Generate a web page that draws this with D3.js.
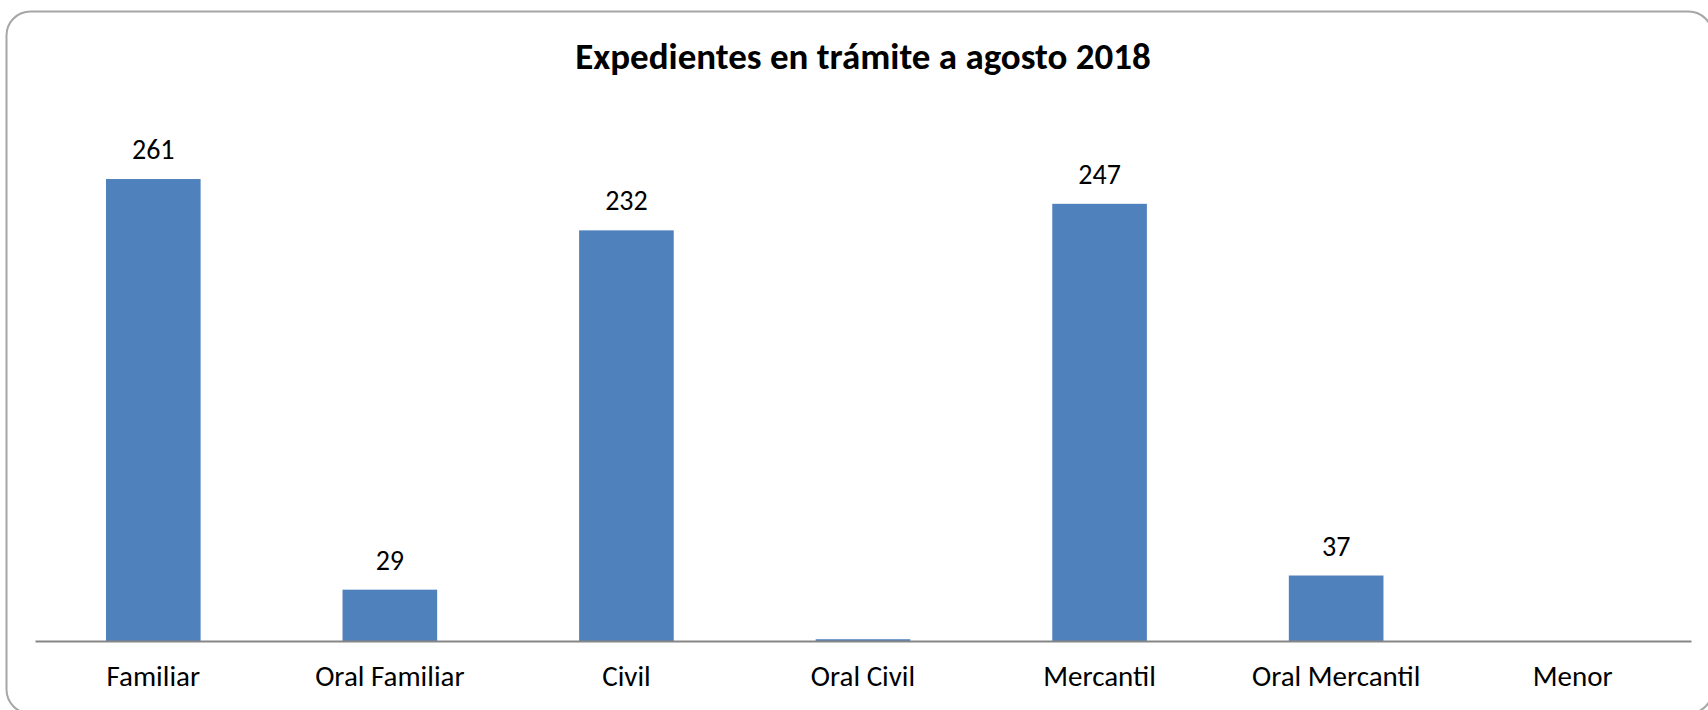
<!DOCTYPE html>
<html>
<head>
<meta charset="utf-8">
<script src="https://cdn.jsdelivr.net/npm/d3@7"></script>
<style>
  html, body { margin: 0; padding: 0; background: #fff; }
  svg { display: block; }
  text { font-family: Carlito, Calibri, Lato, "Open Sans", sans-serif; fill: #000; }
</style>
</head>
<body>
<svg id="chart" width="1708" height="710"></svg>
<script>
const title = "Expedientes en trámite a agosto 2018";
const categories = ["Familiar", "Oral Familiar", "Civil", "Oral Civil", "Mercantil", "Oral Mercantil", "Menor"];
const values = [261, 29, 232, 1, 247, 37, 0];
const labels = ["261", "29", "232", "", "247", "37", ""];
const yDomain = [0, 300];

const svg = d3.select("#chart");
const plot = { left: 35, right: 1691, top: 110, bottom: 641 };

svg.append("rect")
  .attr("x", 6.5).attr("y", 11.5)
  .attr("width", 1706).attr("height", 702)
  .attr("rx", 24).attr("ry", 24)
  .attr("fill", "#fff")
  .attr("stroke", "#a6a6a6").attr("stroke-width", 2);

const x = d3.scaleBand().domain(categories).range([plot.left, plot.right]).paddingInner(0.6).paddingOuter(0.3);
const y = d3.scaleLinear().domain(yDomain).range([plot.bottom, plot.top]);

svg.append("text")
  .attr("x", (plot.left + plot.right) / 2)
  .attr("y", 69)
  .attr("text-anchor", "middle")
  .style("font-size", "37px")
  .style("font-weight", "bold")
  .text(title);

const data = categories.map((c, i) => ({ c, v: values[i], l: labels[i] }));

svg.append("g").selectAll("rect")
  .data(data.filter(d => d.v > 0))
  .join("rect")
  .attr("x", d => x(d.c))
  .attr("width", x.bandwidth())
  .attr("y", d => y(d.v))
  .attr("height", d => y(0) - y(d.v))
  .attr("fill", "#4f81bd");

svg.append("g").selectAll("text")
  .data(data.filter(d => d.l !== ""))
  .join("text")
  .attr("x", d => x(d.c) + x.bandwidth() / 2)
  .attr("y", d => y(d.v) - 20)
  .attr("text-anchor", "middle")
  .style("font-size", "28px")
  .text(d => d.l);

const xAxis = d3.axisBottom(x).tickSize(0).tickPadding(0);
const gx = svg.append("g").attr("transform", `translate(0,${plot.bottom})`).call(xAxis);
gx.select(".domain").attr("stroke", "#868686").attr("stroke-width", 2);
gx.selectAll(".tick text")
  .attr("dy", null)
  .attr("y", 45)
  .style("font-size", "29px")
  .style("font-family", "Carlito, Calibri, Lato, 'Open Sans', sans-serif")
  .attr("fill", "#000");
</script>
</body>
</html>
